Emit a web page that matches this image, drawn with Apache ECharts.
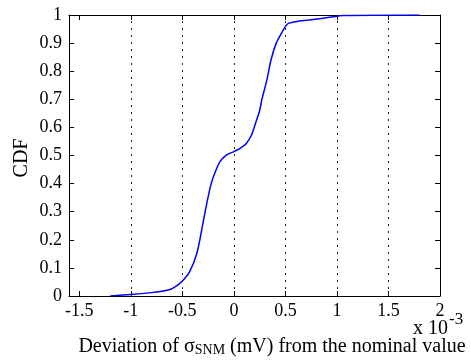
<!DOCTYPE html>
<html>
<head>
<meta charset="utf-8">
<script src="https://cdn.jsdelivr.net/npm/echarts@6/dist/echarts.min.js"></script>
<style>html,body{margin:0;padding:0;background:#fff}#c{width:471px;height:360px}</style>
</head>
<body>
<div id="c"></div>
<script>
const devX = [-1.2, -1.0, -0.8, -0.7, -0.62, -0.55, -0.5, -0.43, -0.36, -0.31, -0.26, -0.22, -0.18, -0.135, -0.07, 0.0, 0.06, 0.12, 0.17, 0.21, 0.25, 0.27, 0.32, 0.36, 0.41, 0.46, 0.52, 0.6, 0.73, 0.93, 1.06, 1.8];
const cdfY = [0, 0.005, 0.012, 0.017, 0.023, 0.038, 0.053, 0.086, 0.151, 0.24, 0.335, 0.40, 0.442, 0.478, 0.502, 0.514, 0.525, 0.543, 0.572, 0.615, 0.66, 0.697, 0.769, 0.84, 0.899, 0.934, 0.968, 0.976, 0.982, 0.992, 0.998, 1.0];
const xTicks = [-1.5, -1, -0.5, 0, 0.5, 1, 1.5, 2];
const xGrid = [-1, -0.5, 0, 0.5, 1, 1.5];
const yTickLabels = ['0', '0.1', '0.2', '0.3', '0.4', '0.5', '0.6', '0.7', '0.8', '0.9', '1'];

const FONT = 'Liberation Serif';
const chart = echarts.init(document.getElementById('c'), null, {renderer: 'canvas'});
const axisLine = {show: true, onZero: false, lineStyle: {color: '#000', width: 1}};
chart.setOption({
  animation: false,
  backgroundColor: '#fff',
  textStyle: {fontFamily: FONT},
  grid: {left: 69, right: 31, top: 15, bottom: 64, containLabel: false},
  xAxis: [{
    type: 'value', position: 'bottom', min: -1.6, max: 2,
    axisLine: axisLine,
    axisTick: {show: true, inside: true, length: 5, customValues: xTicks, lineStyle: {color: '#000'}},
    axisLabel: {customValues: xTicks, margin: 6, color: '#000', fontFamily: FONT, fontSize: 18,
      formatter: v => String(Math.round(v * 10) / 10)},
    splitLine: {show: false}
  }, {
    type: 'value', position: 'top', min: -1.6, max: 2,
    axisLine: axisLine,
    axisTick: {show: true, inside: true, length: 5, customValues: xTicks, lineStyle: {color: '#000'}},
    axisLabel: {show: false}, splitLine: {show: false}
  }],
  yAxis: [{
    type: 'value', position: 'left', min: 0, max: 1, interval: 0.1,
    axisLine: axisLine,
    axisTick: {show: true, inside: true, length: 5, lineStyle: {color: '#000'}},
    axisLabel: {margin: 7, color: '#000', fontFamily: FONT, fontSize: 18,
      formatter: (v) => yTickLabels[Math.round(v * 10)]},
    splitLine: {show: false}
  }, {
    type: 'value', position: 'right', min: 0, max: 1, interval: 0.1,
    axisLine: axisLine,
    axisTick: {show: true, inside: true, length: 5, lineStyle: {color: '#000'}},
    axisLabel: {show: false}, splitLine: {show: false}
  }],
  series: [{
    type: 'line', xAxisIndex: 0, yAxisIndex: 0,
    data: [],
    markLine: {
      silent: true, symbol: ['none', 'none'], label: {show: false},
      lineStyle: {color: '#222', type: [2, 5], width: 1},
      data: xGrid.map(v => ({xAxis: v}))
    }
  }, {
    type: 'line', xAxisIndex: 0, yAxisIndex: 0,
    data: devX.map((x, i) => [x, cdfY[i]]),
    showSymbol: false, smooth: 0.3,
    lineStyle: {color: '#0000ff', width: 1.5},
    z: 5
  }],
  graphic: [{
    type: 'text', left: 413, top: 311,
    style: {
      text: '{a|x 10}{b|-3}', fill: '#000',
      rich: {a: {fontFamily: FONT, fontSize: 20, padding: [8, 0, 0, 0]}, b: {fontFamily: FONT, fontSize: 17, verticalAlign: 'top', padding: [0, 0, 8, 1]}}
    }
  }, {
    type: 'text', x: 272, y: 347,
    style: {
      text: '{n|Deviation of σ}{s|SNM}{n| (mV) from the nominal value}', fill: '#000',
      align: 'center', verticalAlign: 'middle',
      rich: {n: {fontFamily: FONT, fontSize: 20}, s: {fontFamily: FONT, fontSize: 14, padding: [6, 0, 0, 0]}}
    }
  }, {
    type: 'text', x: 22, y: 158, rotation: Math.PI / 2,
    style: {text: 'CDF', fill: '#000', fontFamily: FONT, fontSize: 20, align: 'center', verticalAlign: 'middle'}
  }]
});
</script>
</body>
</html>
